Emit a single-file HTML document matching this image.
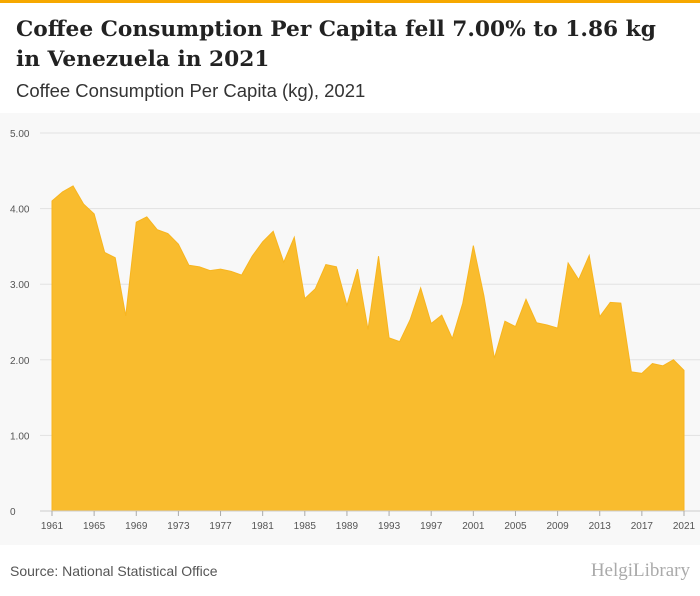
<!DOCTYPE html>
<html><head><meta charset="utf-8"><style>
body{margin:0;width:700px;height:596px;background:#fff;font-family:"Liberation Sans",sans-serif;overflow:hidden;position:relative}
.top{position:absolute;left:0;top:0;width:700px;height:3px;background:#f6a800}
h1{position:absolute;left:16px;top:15px;margin:0;font-family:"DejaVu Serif",serif;font-weight:bold;font-size:21.7px;line-height:30px;color:#222;white-space:nowrap}
.sub{position:absolute;left:16px;top:80px;font-size:18.5px;color:#333}
.src{position:absolute;left:10px;top:563px;font-size:14px;color:#555}
.logo{position:absolute;right:10px;top:560px;font-size:19px;color:#aaa;font-family:"Liberation Serif",serif}
svg{position:absolute;left:0;top:113px}
</style></head><body>
<div class="top"></div>
<h1>Coffee Consumption Per Capita fell 7.00% to 1.86 kg<br>in Venezuela in 2021</h1>
<div class="sub">Coffee Consumption Per Capita (kg), 2021</div>
<svg id="c" width="700" height="432"></svg>
<div class="src">Source: National Statistical Office</div>
<div class="logo">HelgiLibrary</div>
<script>
const years=[];for(let y=1961;y<=2021;y++)years.push(y);
const values=[4.10,4.22,4.30,4.06,3.93,3.42,3.35,2.58,3.82,3.89,3.72,3.67,3.53,3.25,3.23,3.18,3.20,3.17,3.12,3.37,3.56,3.70,3.29,3.62,2.81,2.94,3.26,3.23,2.72,3.20,2.40,3.37,2.29,2.24,2.53,2.95,2.48,2.59,2.28,2.75,3.51,2.85,2.02,2.51,2.44,2.80,2.49,2.46,2.42,3.28,3.06,3.38,2.57,2.76,2.75,1.84,1.82,1.95,1.92,2.00,1.86];
const yTicks=[0,1,2,3,4,5];
const yLabels=["0","1.00","2.00","3.00","4.00","5.00"];
const xTickYears=[1961,1965,1969,1973,1977,1981,1985,1989,1993,1997,2001,2005,2009,2013,2017,2021];
const NS="http://www.w3.org/2000/svg",svg=document.getElementById('c');
const X=y=>52+(y-1961)*(632/60), Y=v=>398-v*75.6;
function mk(t,a){const e=document.createElementNS(NS,t);for(const k in a)e.setAttribute(k,a[k]);svg.appendChild(e);return e;}
const bg=mk('rect',{x:0,y:0,width:700,height:432,fill:'#f8f8f8'});


yTicks.forEach((t,i)=>{
 const l=mk('line',{x1:40,x2:700,y1:Y(t),y2:Y(t),stroke:'#e2e2e2','stroke-width':1});
 
 
 const tx=mk('text',{x:10,y:Y(t)+4,'font-size':10,fill:'#555'});tx.textContent=yLabels[i];
 
 
});
let d='M'+X(years[0])+','+Y(0);
years.forEach((y,i)=>d+=' L'+X(y)+','+Y(values[i]));
d+=' L'+X(years[years.length-1])+','+Y(0)+'Z';
const a=mk('path',{d:d,fill:'#f9bc2e',stroke:'#f7b520','stroke-width':1});


const ax=mk('line',{x1:40,x2:700,y1:Y(0),y2:Y(0),stroke:'#ccc'});


xTickYears.forEach(y=>{
 const tk=mk('line',{x1:X(y),x2:X(y),y1:Y(0),y2:Y(0)+5,stroke:'#aaa'});
 
 
 const tx=mk('text',{x:X(y),y:Y(0)+18,'font-size':10,fill:'#555','text-anchor':'middle'});tx.textContent=y;
 
 
});
</script>
</body></html>
